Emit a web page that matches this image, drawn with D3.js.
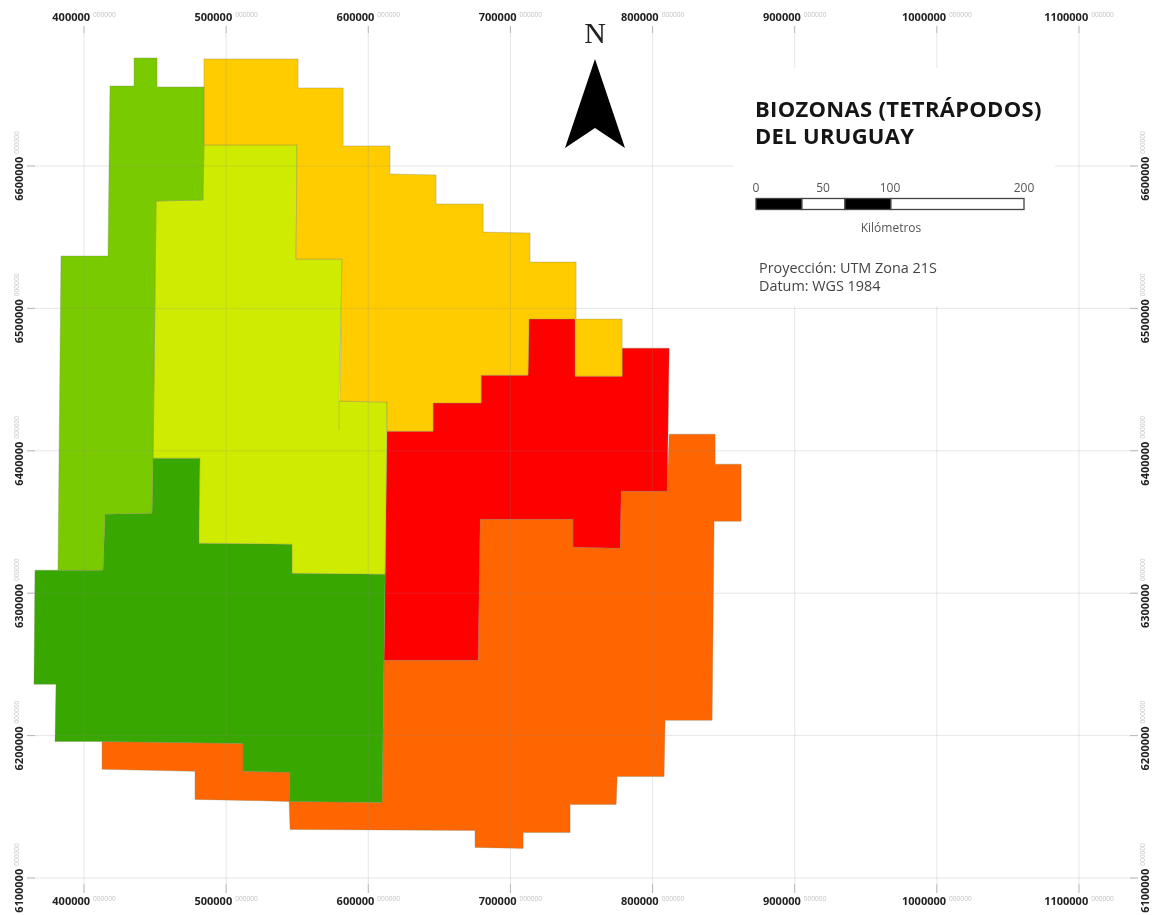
<!DOCTYPE html>
<html><head><meta charset="utf-8">
<script src="https://cdn.jsdelivr.net/npm/d3@7/dist/d3.min.js"></script>
<style>html,body{margin:0;padding:0;background:#fff;overflow:hidden}svg{display:block;filter:blur(.7px)}text{font-family:"Open Sans",sans-serif}</style>
</head><body><svg id="map" width="1152" height="915"></svg>
<script>
// Map data: UTM zone 21S, kilometres [easting, northing]
const eastTicks=[400,500,600,700,800,900,1000,1100];
const northTicks=[6600,6500,6400,6300,6200,6100];
const ghostLabel="000000";
const zoneLimeGreen=[[435.2,6675.9],[451.4,6675.9],[451.4,6655.5],[484.4,6655.5],[484.4,6614.8],[483.7,6576.1],[450.7,6575.4],[448.6,6394.8],[447.9,6356.2],[414.8,6355.5],[413.4,6316.1],[381.7,6316.1],[383.8,6536.8],[416.9,6536.8],[418.3,6656.2],[435.2,6656.2]];
const zoneAmber=[[484.4,6675.2],[550.6,6675.2],[550.6,6654.8],[582.3,6654.8],[582.3,6614.1],[615.3,6614.1],[615.3,6594.4],[647.7,6593.7],[647.7,6573.3],[680.8,6573.3],[680.8,6553.6],[713.8,6552.9],[713.8,6532.5],[746.2,6532.5],[746.2,6492.5],[778.6,6492.5],[778.6,6452.4],[745.5,6452.4],[745.5,6492.5],[713.1,6492.5],[712.4,6453.1],[679.4,6453.1],[679.4,6433.5],[645.6,6433.5],[645.6,6413.8],[613.2,6413.8],[613.2,6434.2],[580.1,6434.9],[581.6,6534.6],[549.2,6534.6],[549.9,6614.8],[484.4,6614.8]];
const zoneYellow=[[484.4,6614.8],[549.9,6614.8],[549.2,6534.6],[581.6,6534.6],[579.4,6434.9],[613.2,6434.2],[611.8,6313.3],[546.4,6314.0],[546.4,6334.4],[480.9,6335.1],[481.6,6394.8],[448.6,6394.8],[450.7,6575.4],[483.7,6576.1]];
const zoneDarkGreen=[[365.5,6316.1],[413.4,6316.1],[414.8,6355.5],[447.9,6356.2],[448.6,6394.8],[481.6,6394.8],[480.9,6335.1],[546.4,6334.4],[546.4,6314.0],[611.8,6313.3],[609.7,6153.1],[544.3,6153.8],[545.0,6174.2],[511.9,6174.9],[511.9,6194.5],[412.7,6195.9],[379.6,6195.9],[380.3,6236.0],[364.8,6236.0]];
const zoneRed=[[713.1,6492.5],[745.5,6492.5],[745.5,6452.4],[778.6,6452.4],[778.6,6472.1],[811.7,6472.1],[810.3,6371.6],[777.9,6371.6],[777.2,6331.6],[744.1,6332.3],[744.1,6351.9],[678.7,6351.9],[677.3,6252.9],[611.1,6252.9],[613.2,6413.8],[645.6,6413.8],[645.6,6433.5],[679.4,6433.5],[679.4,6453.1],[712.4,6453.1]];
const zoneOrangeMain=[[811.7,6411.7],[844.0,6411.7],[844.0,6390.6],[862.3,6390.6],[862.3,6350.5],[843.3,6350.5],[841.9,6210.7],[808.8,6210.7],[808.1,6171.3],[775.1,6171.3],[774.4,6151.7],[742.0,6151.7],[742.0,6132.0],[708.9,6132.0],[708.9,6120.8],[675.1,6121.5],[675.1,6133.4],[545.0,6134.1],[544.3,6153.8],[609.7,6153.1],[611.1,6252.9],[677.3,6252.9],[678.7,6351.9],[744.1,6351.9],[744.1,6332.3],[777.2,6331.6],[777.9,6371.6],[810.3,6371.6]];
const zoneOrangeWest=[[412.7,6195.9],[511.9,6194.5],[511.9,6174.9],[545.0,6174.2],[544.3,6153.8],[478.1,6155.2],[478.1,6174.9],[412.7,6176.3]];
const boundaryStub=[[579.4,6434.9],[579.4,6414.5]];
const zones=[
 {coords:zoneOrangeMain,color:"#ff6600"},{coords:zoneOrangeWest,color:"#ff6600"},
 {coords:zoneRed,color:"#ff0000"},{coords:zoneDarkGreen,color:"#38a800"},
 {coords:zoneYellow,color:"#cfec00"},{coords:zoneAmber,color:"#ffcc00"},{coords:zoneLimeGreen,color:"#7aca00"}];
const titleLines=["BIOZONAS (TETRÁPODOS)","DEL URUGUAY"];
const scaleBreaks=[0,34.3,66.4,100.7,200];
const scaleLabels=[0,50,100,200];
const projectionLines=["Proyección: UTM Zona 21S","Datum: WGS 1984"];

const svg=d3.select("#map");
const x=d3.scaleLinear().domain([400,1100]).range([84,1079]);
const y=d3.scaleLinear().domain([6600,6100]).range([166,878]);
const line=d3.line().x(d=>x(d[0])).y(d=>y(d[1]));
const closed=d3.line().x(d=>x(d[0])).y(d=>y(d[1])).curve(d3.curveLinearClosed);

svg.append("g").selectAll("path").data(zones).join("path")
 .attr("d",d=>closed(d.coords)).attr("fill",d=>d.color)
 .attr("stroke","#7d7d5a").attr("stroke-opacity",.45).attr("stroke-width",.7);
svg.append("path").attr("d",line(boundaryStub)).attr("fill","none").attr("stroke","#7d7d5a").attr("stroke-opacity",.4).attr("stroke-width",.8);

// graticule
const grid=svg.append("g").attr("stroke","#888").attr("stroke-opacity",.2).attr("stroke-width",1);
grid.selectAll(".v").data(eastTicks).join("line").attr("x1",d=>x(d)).attr("x2",d=>x(d)).attr("y1",26).attr("y2",893);
grid.selectAll(".h").data(northTicks).join("line").attr("y1",d=>y(d)).attr("y2",d=>y(d)).attr("x1",27).attr("x2",1138);
const tick=svg.append("g").attr("stroke","#888").attr("stroke-opacity",.5);
eastTicks.forEach(d=>{[[26,33],[884,893]].forEach(r=>tick.append("line").attr("x1",x(d)).attr("x2",x(d)).attr("y1",r[0]).attr("y2",r[1]));});
northTicks.forEach(d=>{[[27,35],[1130,1138]].forEach(r=>tick.append("line").attr("y1",y(d)).attr("y2",y(d)).attr("x1",r[0]).attr("x2",r[1]));});

// legend panel masks the graticule
svg.append("rect").attr("x",733).attr("y",68).attr("width",322).attr("height",238).attr("fill","#fff");

// axis labels: value plus faint ghost digits, centred together on the tick
const fmtLabel=d=>String(d*1000);
function axisLabel(d,transform){
 const t=svg.append("text").attr("transform",transform).attr("text-anchor","middle");
 t.append("tspan").attr("font-size",11).attr("font-weight",700).attr("fill","#222").text(fmtLabel(d));
 t.append("tspan").attr("dx",3).attr("dy",-4).attr("font-size",6.6).attr("fill","#c4c4c4").text(ghostLabel);
}
eastTicks.forEach(d=>{axisLabel(d,`translate(${x(d)},21)`);axisLabel(d,`translate(${x(d)},905)`);});
northTicks.forEach(d=>{axisLabel(d,`translate(22.5,${y(d)}) rotate(-90)`);axisLabel(d,`translate(1149,${y(d)}) rotate(-90)`);});

// north arrow
svg.append("text").attr("x",595).attr("y",43).attr("text-anchor","middle").attr("font-size",30)
 .style("font-family","'Liberation Serif',serif").attr("fill","#222").text("N");
svg.append("path").attr("d","M595,59L625,148L595,128L565,148Z").attr("fill","#000");

// title
svg.append("g").selectAll("text").data(titleLines).join("text")
 .attr("x",755).attr("y",(d,i)=>117+i*27).attr("font-size",22).attr("letter-spacing",.3).attr("font-weight",700).attr("fill","#151515").text(d=>d);

// scale bar
const sb=d3.scaleLinear().domain([0,200]).range([756,1024]);
svg.append("g").selectAll("rect").data(d3.pairs(scaleBreaks)).join("rect")
 .attr("x",d=>sb(d[0])).attr("y",198.5).attr("width",d=>sb(d[1])-sb(d[0])).attr("height",11)
 .attr("fill",(d,i)=>i%2?"#fff":"#000").attr("stroke","#444").attr("stroke-width",1.3);
svg.append("g").selectAll("text").data(scaleLabels).join("text")
 .attr("x",d=>sb(d)).attr("y",192).attr("text-anchor","middle").attr("font-size",12).attr("fill","#555").text(d=>d);
svg.append("text").attr("x",891).attr("y",232).attr("text-anchor","middle").attr("font-size",12).attr("fill","#555").text("Kilómetros");

svg.append("g").selectAll("text").data(projectionLines).join("text")
 .attr("x",759).attr("y",(d,i)=>273+i*17.5).attr("font-size",14.4).attr("fill","#444").text(d=>d);
</script></body></html>
